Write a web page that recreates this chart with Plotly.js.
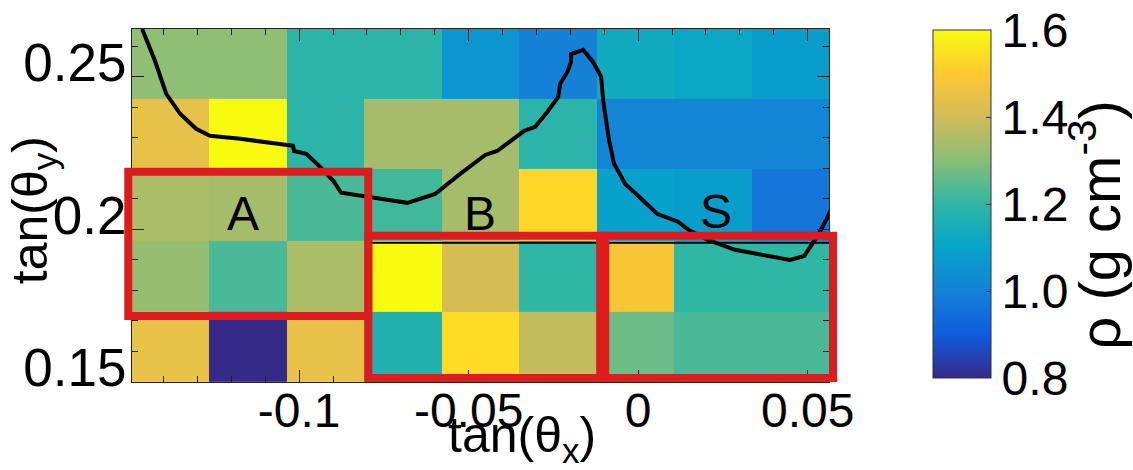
<!DOCTYPE html>
<html>
<head>
<meta charset="utf-8">
<script src="https://cdn.plot.ly/plotly-3.0.1.min.js"></script>
<style>html,body{margin:0;padding:0;background:#fff;}#chart{width:1133px;height:470px;}</style>
</head>
<body>
<div id="chart"></div>
<script>
// ---- data ----
var xCenters = [-0.1379, -0.1151, -0.0922, -0.0694, -0.0465, -0.0237, -0.0008, 0.0220, 0.0449];
var yCenters = [0.1615, 0.1846, 0.2080, 0.2314, 0.2543];
// density rows, bottom -> top
var rho0 = [1.45, 0.80, 1.45, 1.17, 1.54, 1.38, 1.27, 1.23, 1.23];
var rho1 = [1.32, 1.23, 1.35, 1.60, 1.41, 1.20, 1.49, 1.20, 1.20];
var rho2 = [1.35, 1.34, 1.23, 1.22, 1.34, 1.53, 1.09, 1.08, 0.97];
var rho3 = [1.45, 1.60, 1.19, 1.34, 1.34, 1.19, 1.01, 1.01, 1.01];
var rho4 = [1.31, 1.31, 1.19, 1.19, 1.06, 1.00, 1.13, 1.11, 1.08];

// black contour-like curve
var curveX = [-0.1463,-0.1425,-0.1392,-0.1351,-0.1304,-0.1263,-0.1174,-0.1080,-0.1018,-0.1015,-0.0979,-0.0938,-0.0897,-0.0876,-0.0823,-0.0740,-0.0681,-0.0599,-0.0525,-0.0451,-0.0416,-0.0336,-0.0304,-0.0268,-0.0236,-0.0230,-0.0209,-0.0198,-0.0198,-0.0162,-0.0133,-0.0109,-0.0103,-0.0091,-0.0086,-0.0071,-0.0038,0.0003,0.0056,0.0118,0.0150,0.0204,0.0286,0.0369,0.0448,0.0490,0.0531,0.0558,0.0575];
var curveY = [0.2657,0.2552,0.2444,0.2379,0.2330,0.2307,0.2297,0.2284,0.2274,0.2257,0.2248,0.2205,0.2156,0.2120,0.2110,0.2097,0.2087,0.2116,0.2182,0.2244,0.2257,0.2323,0.2336,0.2385,0.2434,0.2477,0.2516,0.2549,0.2575,0.2589,0.2549,0.2500,0.2421,0.2336,0.2293,0.2215,0.2149,0.2107,0.2051,0.2025,0.1998,0.1966,0.1933,0.1916,0.1900,0.1913,0.1982,0.2038,0.2080];

// thin horizontal reference line
var hLineX = [-0.0788, 0.0563];
var hLineY = [0.1956, 0.1956];

// regions A, B, S: [x0, x1, y0, y1]
var regionNames = ['A', 'B', 'S'];
var regionBoxes = [[-0.1504, -0.0796, 0.1716, 0.2189], [-0.0796, -0.0112, 0.1513, 0.1979], [-0.0097, 0.0575, 0.1513, 0.1979]];
var regionLabelX = [-0.1165, -0.0466, 0.0230];
var regionLabelY = [0.2052, 0.2052, 0.2057];

var xTicks = [-0.1, -0.05, 0, 0.05];
var xTickText = ['-0.1', '-0.05', '0', '0.05'];
var yTicks = [0.15, 0.2, 0.25];
var yTickText = ['0.15', '0.2', '0.25'];
var cbTicks = [0.8, 1.0, 1.2, 1.4, 1.6];
var cbTickText = ['0.8', '1.0', '1.2', '1.4', '1.6'];

// ---- styling ----
var xRange = [-0.1493, 0.0563];
var yRange = [0.14995, 0.2657];
var FONT = '"Liberation Sans", Arial, Helvetica, sans-serif';
var parula = [
  [0.0, '#352a87'], [0.125, '#0f5cdd'], [0.25, '#1481d6'], [0.375, '#06a4ca'],
  [0.5, '#2eb7a4'], [0.625, '#87bf77'], [0.75, '#d1bb59'], [0.875, '#fec832'], [1.0, '#f9fb0e']
];

function fx(v){ return (v - xRange[0]) / (xRange[1] - xRange[0]); }
function fy(v){ return (v - yRange[0]) / (yRange[1] - yRange[0]); }

var heat = {
  type: 'heatmap', x: xCenters, y: yCenters, z: [rho0, rho1, rho2, rho3, rho4],
  zmin: 0.8, zmax: 1.6, colorscale: parula, hoverinfo: 'skip',
  colorbar: {
    thickness: 58, thicknessmode: 'pixels', len: 348, lenmode: 'pixels',
    x: 1.1492, xanchor: 'left', xpad: 0, y: 0.5042, yanchor: 'middle', ypad: 0,
    outlinecolor: '#333', outlinewidth: 1,
    tickmode: 'array', tickvals: cbTicks, ticktext: cbTickText,
    ticks: 'inside', ticklen: 5, tickcolor: '#333',
    tickfont: {family: FONT, size: 48, color: '#000'}
  }
};
var curve = {type: 'scatter', mode: 'lines', x: curveX, y: curveY, line: {color: '#000', width: 4}, hoverinfo: 'skip', showlegend: false};
var hline = {type: 'scatter', mode: 'lines', x: hLineX, y: hLineY, line: {color: '#000', width: 2}, hoverinfo: 'skip', showlegend: false};

var shapes = regionBoxes.map(function(b){
  return {type: 'rect', xref: 'x domain', yref: 'y domain', x0: fx(b[0]), x1: fx(b[1]), y0: fy(b[2]), y1: fy(b[3]),
          line: {color: '#dd1c1f', width: 8}, fillcolor: 'rgba(0,0,0,0)', layer: 'above'};
});

var annotations = regionNames.map(function(n, i){
  return {text: n, x: regionLabelX[i], y: regionLabelY[i], xref: 'x', yref: 'y', showarrow: false,
          font: {family: FONT, size: 48, color: '#000'}};
});
annotations.push({text: 'tan(θ<sub>x</sub>)', xref: 'paper', yref: 'paper', x: 0.56, y: -0.255, showarrow: false,
  font: {family: FONT, size: 50, color: '#000'}});
annotations.push({text: 'tan(θ<sub>y</sub>)', xref: 'paper', yref: 'paper', x: -0.19, y: 0.487, textangle: -90, showarrow: false,
  font: {family: FONT, size: 50, color: '#000'}});
annotations.push({text: 'ρ (g cm<sup>-3</sup>)', xref: 'paper', yref: 'paper', x: 1.438, y: 0.445, textangle: -90, showarrow: false,
  font: {family: FONT, size: 58, color: '#000'}});

var axisCommon = {
  showgrid: false, zeroline: false, ticks: 'inside', ticklen: 12, tickwidth: 1, tickcolor: '#222',
  showline: true, linecolor: '#222', linewidth: 1, mirror: 'ticks',
  tickfont: {family: FONT, size: 48, color: '#000'}
};

var layout = {
  width: 1133, height: 470,
  margin: {l: 132, r: 304, t: 29, b: 88, pad: 0},
  paper_bgcolor: '#fff', plot_bgcolor: '#fff',
  font: {family: FONT, color: '#000'},
  showlegend: false,
  xaxis: Object.assign({}, axisCommon, {
    range: xRange, tickmode: 'array', tickvals: xTicks, ticktext: xTickText, ticklabelstandoff: -14,
    minor: {tick0: 0, dtick: 0.01, ticks: 'inside', ticklen: 6, tickcolor: '#222', showgrid: false}
  }),
  yaxis: Object.assign({}, axisCommon, {
    range: yRange, tickmode: 'array', tickvals: yTicks, ticktext: yTickText, ticklabelshift: -14, ticklabelstandoff: -6,
    tickfont: {family: FONT, size: 53, color: '#000'},
    minor: {tick0: 0.15, dtick: 0.01, ticks: 'inside', ticklen: 6, tickcolor: '#222', showgrid: false}
  }),
  shapes: shapes,
  annotations: annotations
};

Plotly.newPlot('chart', [heat, curve, hline], layout, {displayModeBar: false, staticPlot: true});
</script>
</body>
</html>
